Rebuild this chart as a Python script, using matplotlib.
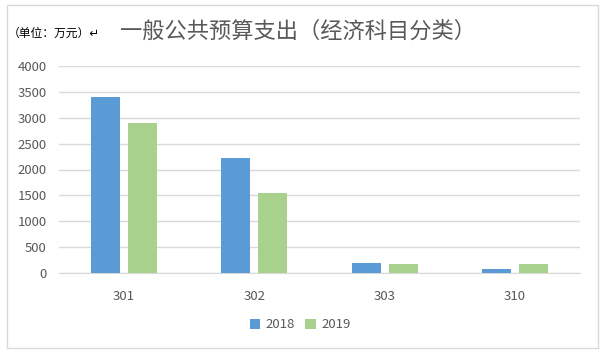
import numpy as np
import matplotlib
matplotlib.use("Agg")
from matplotlib import pyplot as plt
from matplotlib.patches import Rectangle

plt.rcParams['font.family'] = ['Noto Sans CJK SC', 'DejaVu Sans']

categories = ['301', '302', '303', '310']
values_2018 = [3400, 2220, 195, 80]
values_2019 = [2900, 1550, 175, 175]
years = ['2018', '2019']
colors = ['#5B9BD5', '#A9D18E']

W, H = 606, 354
fig = plt.figure(figsize=(W / 100, H / 100), dpi=100)

# outer border of the chart box
fig.patches.append(Rectangle((7 / W, 1 - 348 / H), (598 - 7) / W, (348 - 5) / H,
                             transform=fig.transFigure, fill=False,
                             edgecolor='#D9D9D9', linewidth=1.0))

ax = fig.add_axes([59 / W, 1 - 273 / H, (580 - 59) / W, (273 - 66) / H])

x = np.arange(len(categories))
bw = 0.223
off = 0.142
ax.bar(x - off, values_2018, bw, color=colors[0], label=years[0], zorder=3)
ax.bar(x + off, values_2019, bw, color=colors[1], label=years[1], zorder=3)

ax.set_xlim(-0.5, len(categories) - 0.5)
ax.set_ylim(0, 4000)
ax.set_yticks(range(0, 4001, 500))
ax.set_xticks(x)
ax.set_xticklabels(categories)
ax.yaxis.grid(True, color='#D9D9D9', linewidth=1.0, zorder=0)
ax.set_axisbelow(True)
for s in ['top', 'right', 'left']:
    ax.spines[s].set_visible(False)
ax.spines['bottom'].set_color('#D9D9D9')
ax.tick_params(axis='both', length=0, colors='#595959', labelsize=9.5)
ax.tick_params(axis='y', pad=9)
ax.tick_params(axis='x', pad=12)

fig.text(8 / W, 1 - 33 / H, '（单位：万元）↵', fontsize=8.5, color='black',
         va='center', ha='left')
fig.text(120 / W, 1 - 31 / H, '一般公共预算支出（经济科目分类）', fontsize=16,
         color='#595959', va='center', ha='left', fontweight='light')

fig.legend(loc='center', bbox_to_anchor=(300 / W, 1 - 325 / H), ncol=2,
           frameon=False, fontsize=9.5, labelcolor='#595959',
           handlelength=0.8, handleheight=0.8, handletextpad=0.4,
           columnspacing=0.8)

fig.savefig('out.png', dpi=100)
